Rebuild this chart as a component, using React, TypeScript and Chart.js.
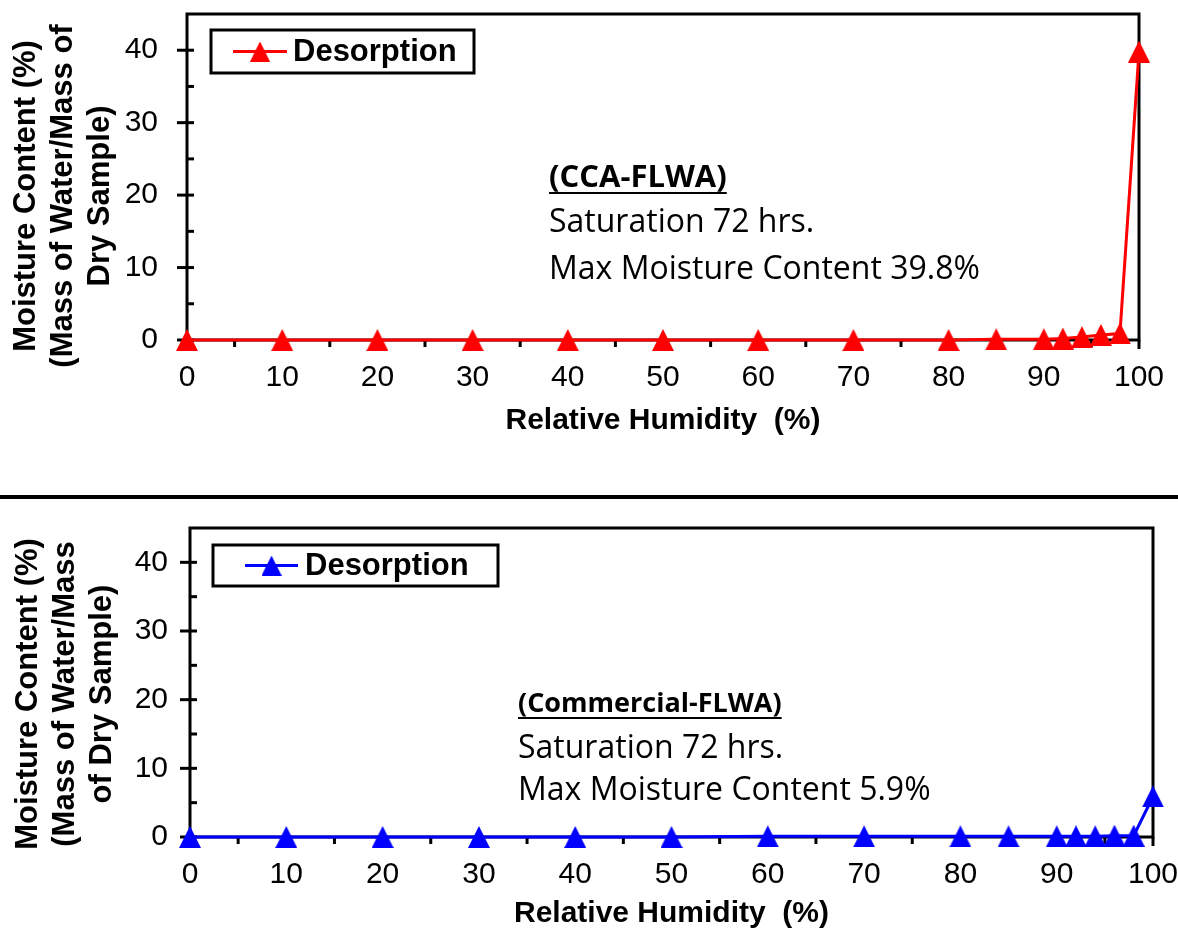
import React, { useEffect, useRef } from "react";
import { Chart, registerables } from "chart.js";

Chart.register(...registerables);

// ---------------- data ----------------
const humidity = [0, 10, 20, 30, 40, 50, 60, 70, 80, 85, 90, 92, 94, 96, 98, 100];
const ccaMoisture = [0, 0, 0, 0, 0, 0, 0, 0, 0, 0.1, 0.1, 0.2, 0.4, 0.7, 0.9, 39.8];
const commercialMoisture = [0, 0, 0, 0, 0, 0, 0.1, 0.1, 0.1, 0.1, 0.1, 0.1, 0.1, 0.2, 0.2, 5.9];

const xTickValues = [0, 10, 20, 30, 40, 50, 60, 70, 80, 90, 100];
const xMinorTicks = [5, 15, 25, 35, 45, 55, 65, 75, 85, 95];
const yTickValues = [0, 10, 20, 30, 40];
const yMinorTicks = [5, 15, 25, 35];

const seriesLabel = "Desorption";
const xAxisTitle = "Relative Humidity  (%)";
const ccaYTitle = ["Moisture Content (%)", "(Mass of Water/Mass of", "Dry Sample)"];
const commercialYTitle = ["Moisture Content (%)", "(Mass of Water/Mass", "of Dry Sample)"];
const ccaNotes = ["(CCA-FLWA)", "Saturation 72 hrs.", "Max Moisture Content 39.8%"];
const commercialNotes = ["(Commercial-FLWA)", "Saturation 72 hrs.", "Max Moisture Content 5.9%"];

const ARIAL = "'Liberation Sans', Arial, sans-serif";
const CALIBRI = "'Open Sans', 'Noto Sans', sans-serif";

function makeTriangle(color: string, w: number, h: number) {
  const c = document.createElement("canvas");
  c.width = w;
  c.height = h;
  const ctx = c.getContext("2d")!;
  ctx.fillStyle = color;
  ctx.beginPath();
  ctx.moveTo(w / 2, 0);
  ctx.lineTo(w, h);
  ctx.lineTo(0, h);
  ctx.closePath();
  ctx.fill();
  return c;
}

type PanelCfg = {
  color: string;
  values: number[];
  yTitle: string[];
  yTitleX: number;
  yTitleY: number;
  notes: string[];
  noteX: number;
  noteY: number[];
  headerSize: number;
  legend: { x: number; y: number; w: number; h: number; lx1: number; lx2: number; tx: number };
  padTop: number;
  padRight: number;
  padBottom: number;
  yWidth: number;
  xHeight: number;
  yTickPad: number;
  canvasH: number;
};

function line(ctx: CanvasRenderingContext2D, x1: number, y1: number, x2: number, y2: number) {
  ctx.beginPath();
  ctx.moveTo(x1, y1);
  ctx.lineTo(x2, y2);
  ctx.stroke();
}

function Panel({ cfg }: { cfg: PanelCfg }) {
  const ref = useRef<HTMLCanvasElement>(null);
  useEffect(() => {
    const tri = makeTriangle(cfg.color, 22, 22);
    const decor = {
      id: "decor",
      beforeDatasetsDraw(chart: any) {
        const ctx = chart.ctx as CanvasRenderingContext2D;
        const { left, right, top, bottom } = chart.chartArea;
        const xs = chart.scales.x;
        const ys = chart.scales.y;
        ctx.save();
        ctx.strokeStyle = "#000";
        ctx.lineWidth = 3;
        ctx.strokeRect(left, top, right - left, bottom - top);
        for (const v of yTickValues) {
          const py = ys.getPixelForValue(v);
          line(ctx, left - 10, py, left + 7, py);
        }
        for (const v of yMinorTicks) {
          const py = ys.getPixelForValue(v);
          line(ctx, left, py, left + 7, py);
        }
        for (const v of xTickValues) {
          const px = xs.getPixelForValue(v);
          line(ctx, px, bottom, px, bottom + 9);
        }
        for (const v of xMinorTicks) {
          const px = xs.getPixelForValue(v);
          line(ctx, px, bottom, px, bottom + 7);
        }
        ctx.restore();
      },
      afterDraw(chart: any) {
        const ctx = chart.ctx as CanvasRenderingContext2D;
        ctx.save();
        // y-axis title
        ctx.fillStyle = "#000";
        ctx.font = `bold 31px ${ARIAL}`;
        ctx.textAlign = "center";
        ctx.textBaseline = "middle";
        ctx.translate(cfg.yTitleX, cfg.yTitleY);
        ctx.rotate(-Math.PI / 2);
        cfg.yTitle.forEach((t, i) => {
          ctx.fillText(t, 0, (i - (cfg.yTitle.length - 1) / 2) * 37);
        });
        ctx.restore();

        // legend
        const L = cfg.legend;
        ctx.save();
        ctx.fillStyle = "#fff";
        ctx.fillRect(L.x, L.y, L.w, L.h);
        ctx.strokeStyle = "#000";
        ctx.lineWidth = 3;
        ctx.strokeRect(L.x, L.y, L.w, L.h);
        const ly = L.y + L.h / 2;
        const ds = chart.data.datasets[0];
        ctx.strokeStyle = ds.borderColor;
        ctx.lineWidth = 3;
        line(ctx, L.lx1, ly, L.lx2, ly);
        ctx.drawImage(tri, (L.lx1 + L.lx2) / 2 - 10, ly - 10, 20, 20);
        ctx.fillStyle = "#000";
        ctx.font = `bold 31px ${ARIAL}`;
        ctx.textAlign = "left";
        ctx.textBaseline = "middle";
        ctx.fillText(ds.label, L.tx, ly + 1);
        ctx.restore();

        // annotation
        ctx.save();
        ctx.fillStyle = "#000";
        ctx.textAlign = "left";
        ctx.textBaseline = "alphabetic";
        cfg.notes.forEach((t, i) => {
          ctx.font = i === 0 ? `bold ${cfg.headerSize}px ${CALIBRI}` : `32px ${CALIBRI}`;
          ctx.fillText(t, cfg.noteX, cfg.noteY[i]);
          if (i === 0) {
            const w = ctx.measureText(t).width;
            ctx.strokeStyle = "#000";
            ctx.lineWidth = 2;
            line(ctx, cfg.noteX, cfg.noteY[i] + 6, cfg.noteX + w, cfg.noteY[i] + 6);
          }
        });
        ctx.restore();
      },
    };

    const chart = new Chart(ref.current!, {
      type: "line",
      data: {
        datasets: [
          {
            label: seriesLabel,
            data: humidity.map((x, i) => ({ x, y: cfg.values[i] })),
            borderColor: cfg.color,
            backgroundColor: cfg.color,
            borderWidth: 3,
            pointStyle: tri as any,
            pointRadius: 11,
            tension: 0,
            clip: false as any,
          },
        ],
      },
      options: {
        responsive: false,
        animation: false,
        devicePixelRatio: 1,
        layout: { padding: { left: 0, top: cfg.padTop, right: cfg.padRight, bottom: cfg.padBottom } },
        plugins: { legend: { display: false }, tooltip: { enabled: false } },
        scales: {
          x: {
            type: "linear",
            min: 0,
            max: 100,
            afterBuildTicks: (s: any) => {
              s.ticks = xTickValues.map((v) => ({ value: v }));
            },
            afterFit: (s: any) => {
              s.height = cfg.xHeight;
              s.paddingLeft = 0;
              s.paddingRight = 0;
            },
            grid: { display: false, drawTicks: false },
            border: { display: false },
            ticks: { color: "#000", padding: 20, font: { family: ARIAL, size: 30 }, maxRotation: 0, autoSkip: false },
            title: {
              display: true,
              text: xAxisTitle,
              color: "#000",
              padding: 0,
              font: { family: ARIAL, size: 30, weight: "bold" },
            },
          },
          y: {
            type: "linear",
            min: 0,
            max: 45,
            afterBuildTicks: (s: any) => {
              s.ticks = yTickValues.map((v) => ({ value: v }));
            },
            afterFit: (s: any) => {
              s.width = cfg.yWidth;
              s.paddingTop = 0;
              s.paddingBottom = 0;
            },
            grid: { display: false, drawTicks: false },
            border: { display: false },
            ticks: { color: "#000", padding: cfg.yTickPad, font: { family: ARIAL, size: 30 } },
          },
        },
      },
      plugins: [decor],
    } as any);
    return () => chart.destroy();
  }, [cfg]);
  return <canvas ref={ref} width={1178} height={cfg.canvasH} style={{ display: "block" }} />;
}

const topCfg: PanelCfg = {
  color: "#FF0000",
  values: ccaMoisture,
  yTitle: ccaYTitle,
  yTitleX: 63,
  yTitleY: 196,
  notes: ccaNotes,
  noteX: 549,
  noteY: [187, 232, 279],
  headerSize: 31,
  legend: { x: 211, y: 30, w: 263, h: 43, lx1: 233, lx2: 287, tx: 293 },
  padTop: 12,
  padRight: 39,
  padBottom: 41,
  yWidth: 187,
  xHeight: 99,
  yTickPad: 29,
  canvasH: 480,
};

const bottomCfg: PanelCfg = {
  color: "#0000FF",
  values: commercialMoisture,
  yTitle: commercialYTitle,
  yTitleX: 65,
  yTitleY: 194,
  notes: commercialNotes,
  noteX: 518,
  noteY: [212, 258, 300],
  headerSize: 27,
  legend: { x: 213, y: 45, w: 285, h: 41, lx1: 245, lx2: 298, tx: 305 },
  padTop: 28,
  padRight: 25,
  padBottom: 5,
  yWidth: 190,
  xHeight: 95,
  yTickPad: 22,
  canvasH: 437,
};

export default function App() {
  return (
    <div style={{ position: "absolute", left: 0, top: 0, width: 1178, height: 937, background: "#fff" }}>
      <div style={{ position: "absolute", left: 0, top: 0 }}>
        <Panel cfg={topCfg} />
      </div>
      <div style={{ position: "absolute", left: 0, top: 495, width: 1178, height: 4, background: "#000" }} />
      <div style={{ position: "absolute", left: 0, top: 500 }}>
        <Panel cfg={bottomCfg} />
      </div>
    </div>
  );
}
